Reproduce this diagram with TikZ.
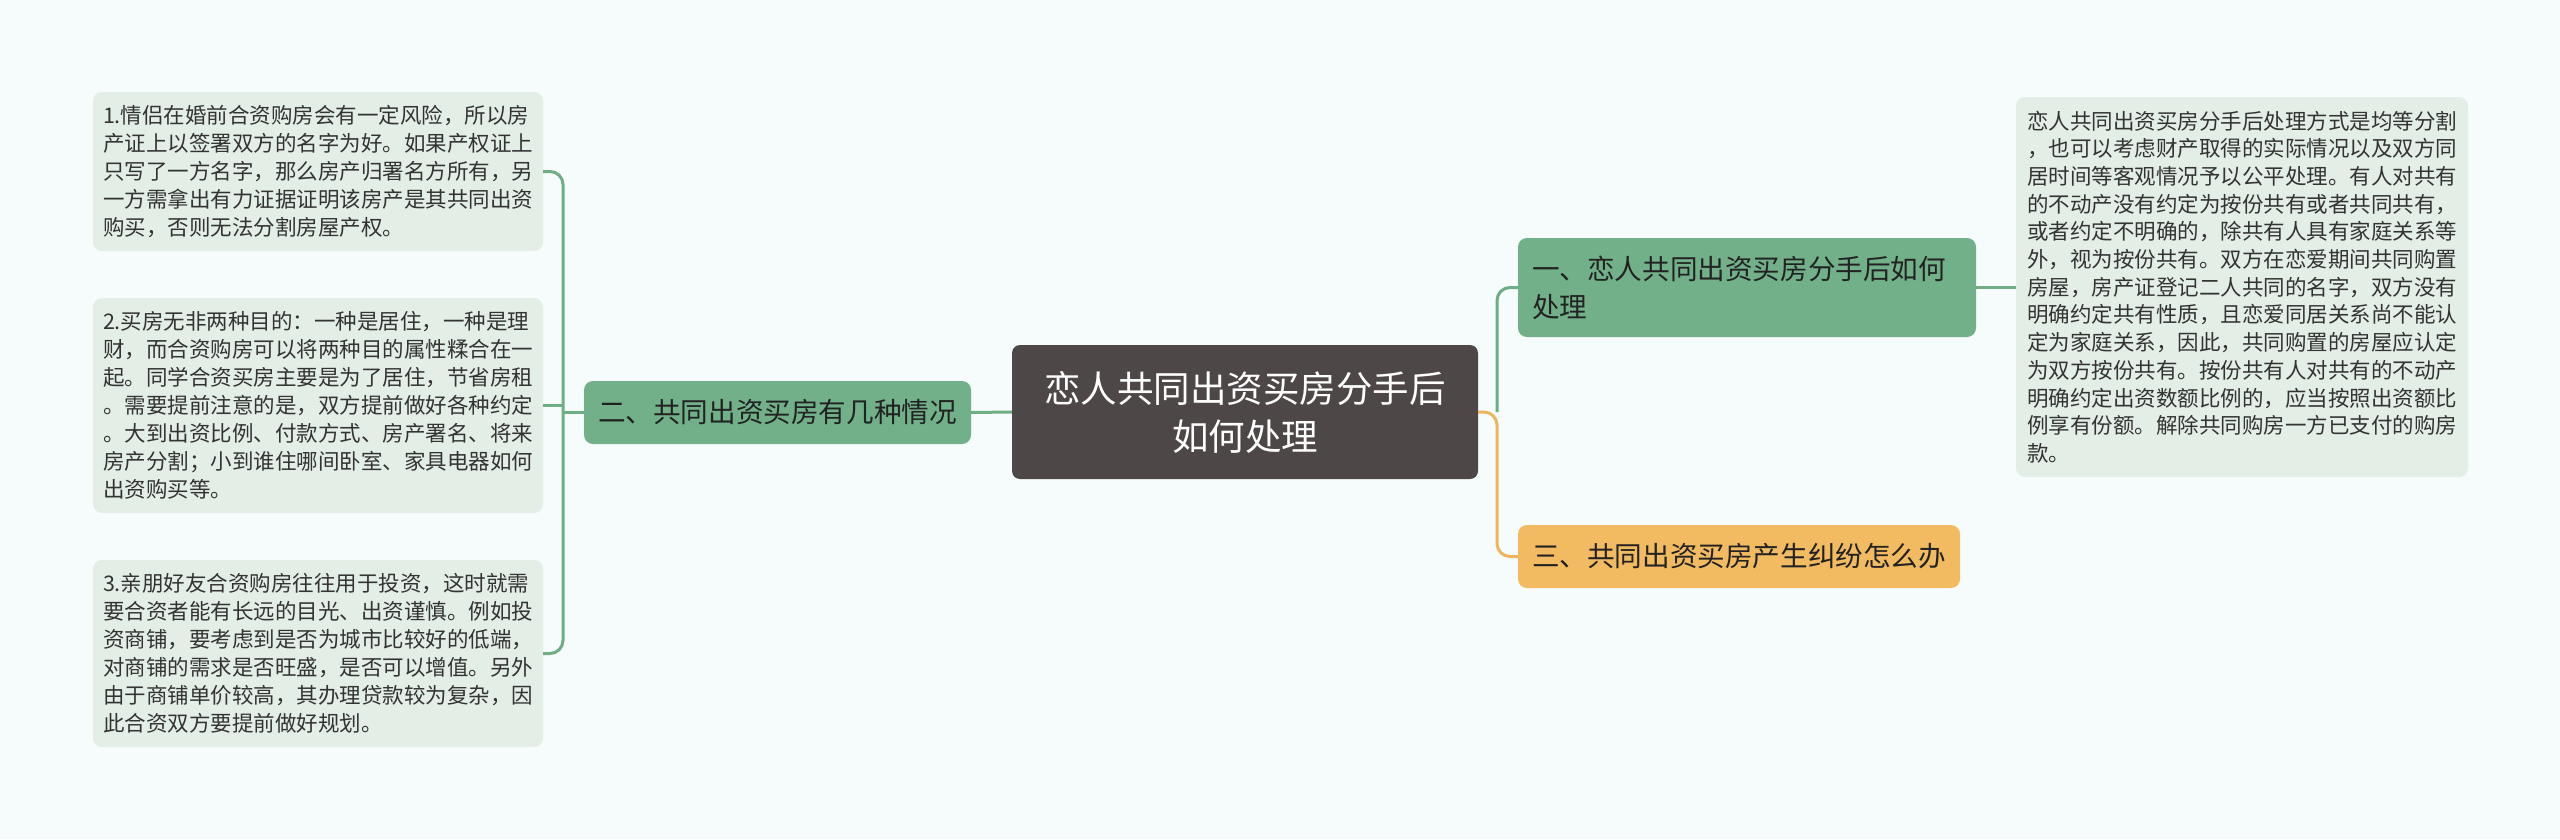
\documentclass[tikz,border=0pt]{standalone}
\usepackage{fontspec}
\newfontfamily\cjk{Noto Sans CJK SC}
\definecolor{bgc}{HTML}{F6FBFB}
\definecolor{gline}{HTML}{6FAE85}
\definecolor{oline}{HTML}{EDB65E}
\definecolor{detailbg}{HTML}{E3EEE6}
\definecolor{gbox}{HTML}{72B08A}
\definecolor{obox}{HTML}{F2BB62}
\definecolor{cbox}{HTML}{4D4747}
\definecolor{dtext}{HTML}{333333}
\definecolor{btext}{HTML}{222222}
\tikzset{
  detail/.style={fill=detailbg, rounded corners=9pt, text=dtext, align=left, inner sep=0pt,
    font=\cjk\fontsize{21.5}{28}\selectfont},
  detailr/.style={detail, font=\cjk\fontsize{21.5}{27.7}\selectfont},
  branch/.style={rounded corners=9pt, text=btext, inner sep=0pt,
    font=\cjk\fontsize{27.6}{38}\selectfont},
  centerbox/.style={fill=cbox, rounded corners=8pt, text=white, align=center, inner sep=0pt,
    font=\cjk\fontsize{36.5}{48}\selectfont},
  gconn/.style={draw=gline, line width=3pt, rounded corners=13pt},
  oconn/.style={draw=oline, line width=3pt, rounded corners=13pt},
}
\begin{document}
\begin{tikzpicture}[x=1pt,y=-1pt]
\fill[bgc] (0,0) rectangle (2560,839);
\useasboundingbox (0,0) rectangle (2560,839);

% center
\node[centerbox, minimum width=466pt, minimum height=134pt] (c) at (1245,412)
  {恋人共同出资买房分手后\\如何处理};

% branches
\node[branch, fill=gbox, minimum width=387pt, minimum height=63pt] (b2) at (777.5,412.5)
  {二、共同出资买房有几种情况};
\node[branch, fill=gbox, minimum width=458pt, minimum height=99pt, text width=430pt, align=left] (b1) at (1747,287.5)
  {一、恋人共同出资买房分手后如何\\处理};
\node[branch, fill=obox, minimum width=442pt, minimum height=63pt] (b3) at (1739,556.5)
  {三、共同出资买房产生纠纷怎么办};

% left details
\node[detail, minimum width=450pt, minimum height=159pt] (d1) at (318,171.5)
  {1.情侣在婚前合资购房会有一定风险，所以房\\产证上以签署双方的名字为好。如果产权证上\\只写了一方名字，那么房产归署名方所有，另\\一方需拿出有力证据证明该房产是其共同出资\\购买，否则无法分割房屋产权。};
\node[detail, minimum width=450pt, minimum height=215pt] (d2) at (318,405.5)
  {2.买房无非两种目的：一种是居住，一种是理\\财，而合资购房可以将两种目的属性糅合在一\\起。同学合资买房主要是为了居住，节省房租\\。需要提前注意的是，双方提前做好各种约定\\。大到出资比例、付款方式、房产署名、将来\\房产分割；小到谁住哪间卧室、家具电器如何\\出资购买等。};
\node[detail, minimum width=450pt, minimum height=187pt] (d3) at (318,653.5)
  {3.亲朋好友合资购房往往用于投资，这时就需\\要合资者能有长远的目光、出资谨慎。例如投\\资商铺，要考虑到是否为城市比较好的低端，\\对商铺的需求是否旺盛，是否可以增值。另外\\由于商铺单价较高，其办理贷款较为复杂，因\\此合资双方要提前做好规划。};

% right detail
\node[detailr, minimum width=452pt, minimum height=380pt] (d4) at (2242,287)
  {恋人共同出资买房分手后处理方式是均等分割\\，也可以考虑财产取得的实际情况以及双方同\\居时间等客观情况予以公平处理。有人对共有\\的不动产没有约定为按份共有或者共同共有，\\或者约定不明确的，除共有人具有家庭关系等\\外，视为按份共有。双方在恋爱期间共同购置\\房屋，房产证登记二人共同的名字，双方没有\\明确约定共有性质，且恋爱同居关系尚不能认\\定为家庭关系，因此，共同购置的房屋应认定\\为双方按份共有。按份共有人对共有的不动产\\明确约定出资数额比例的，应当按照出资额比\\例享有份额。解除共同购房一方已支付的购房\\款。};

% connectors
\coordinate (lx) at (563,0);
\coordinate (jn) at (1497,412);

\draw[gconn] (c.west) -- (b2.east);
\draw[gconn] (b2.west) -- (b2.west -| lx);
\draw[gconn] (d1.east) -- (d1.east -| lx) -- (d3.east -| lx) -- (d3.east);
\draw[gconn] (d2.east) -- (d2.east -| lx);

\draw[oconn] (c.east) -- (jn) -- (jn |- b3.west) -- (b3.west);
\draw[gconn] (jn) -- (jn |- b1.west) -- (b1.west);
\draw[gconn] (b1.east) -- (d4.west |- b1.east);
\end{tikzpicture}
\end{document}
